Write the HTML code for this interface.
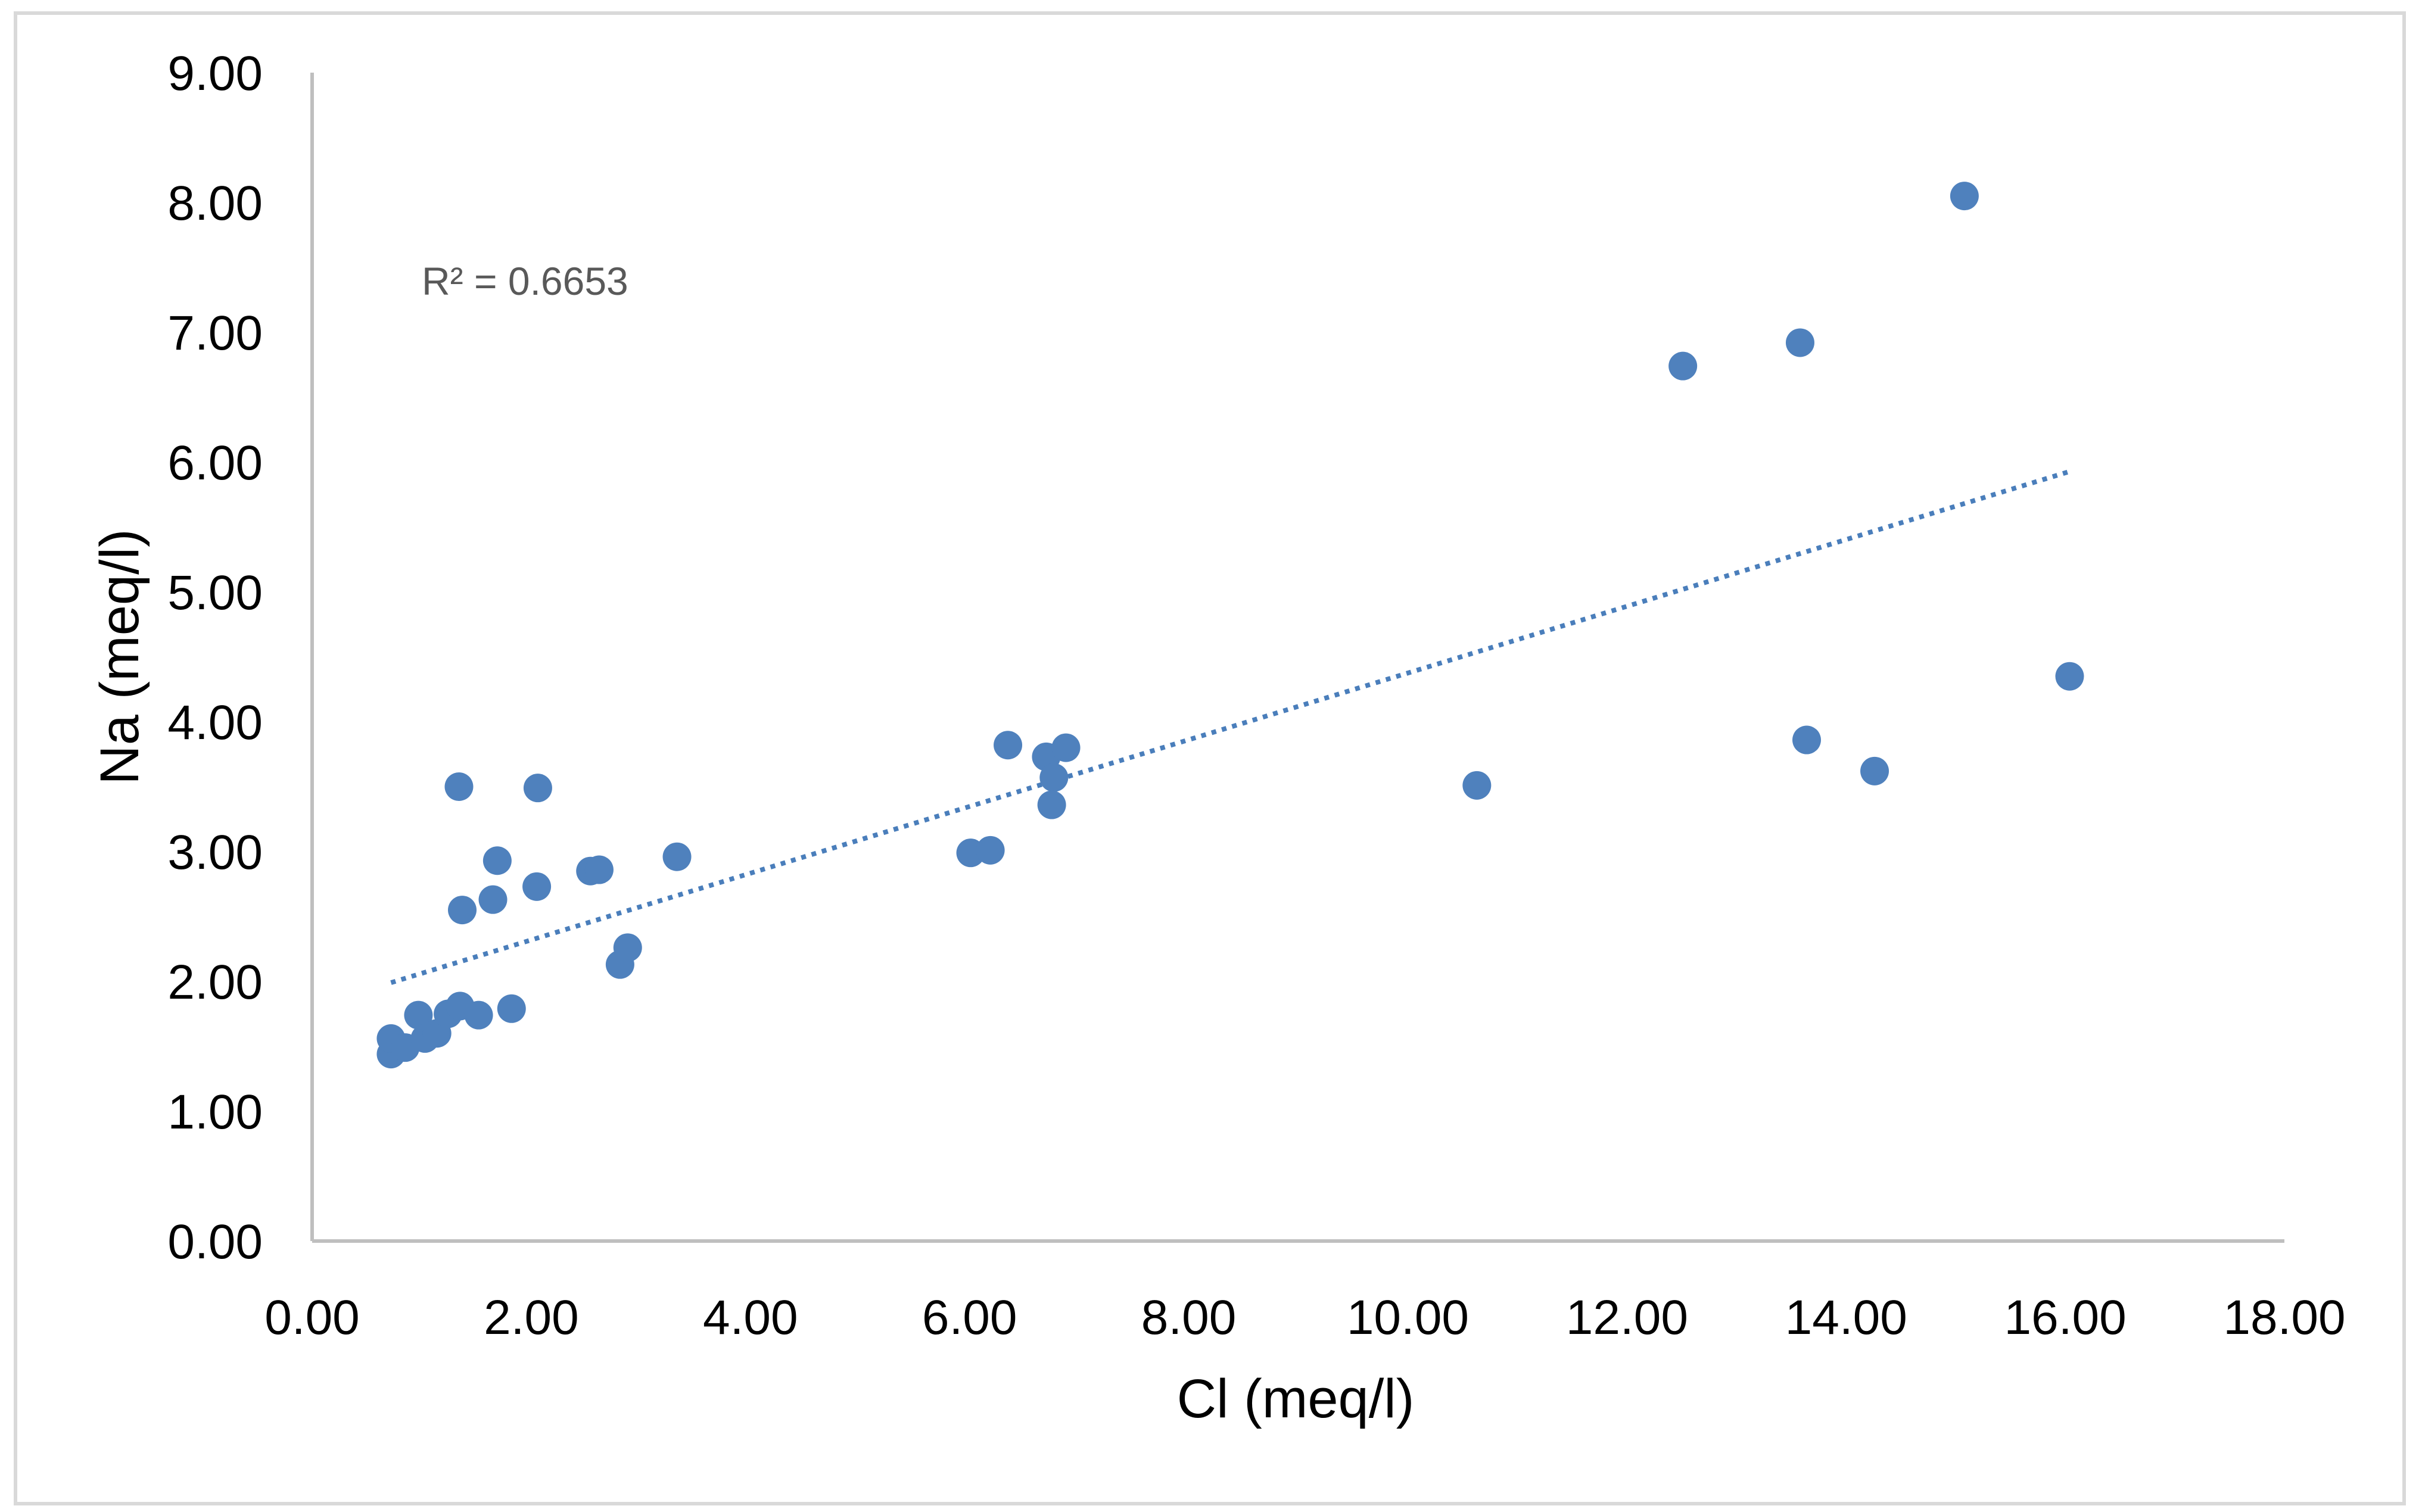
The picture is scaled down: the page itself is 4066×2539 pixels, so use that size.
<!DOCTYPE html>
<html><head><meta charset="utf-8"><style>
html,body{margin:0;padding:0;background:#fff;}
svg{display:block;font-family:"Liberation Sans",sans-serif;}
</style></head><body>
<svg id="chart" width="4066" height="2539" viewBox="0 0 4066 2539" xmlns="http://www.w3.org/2000/svg">
<rect x="26" y="22" width="4010" height="2503" fill="#fff" stroke="#d9d9d9" stroke-width="6"/>
<g id="axes"></g>
<g id="trend"></g>
<g id="points"></g>
<text x="708" y="495" font-size="66" fill="#595959">R² = 0.6653</text>
<text x="2175" y="2380" font-size="92" text-anchor="middle" fill="#000">Cl (meq/l)</text>
<text transform="translate(232,1103) rotate(-90)" font-size="92" text-anchor="middle" fill="#000">Na (meq/l)</text>
</svg>
<script>
const clValues=[0.72,0.72,0.85,0.97,1.03,1.14,1.24,1.35,1.52,1.82,1.34,1.37,1.65,1.69,2.05,2.06,2.54,2.62,2.81,2.88,3.33,6.01,6.19,6.35,6.70,6.77,6.75,6.88,10.63,12.51,13.58,13.64,14.26,15.08,16.04];
const naValues=[1.44,1.56,1.49,1.74,1.56,1.60,1.75,1.81,1.74,1.79,3.50,2.55,2.63,2.93,2.73,3.49,2.85,2.86,2.13,2.26,2.96,2.99,3.01,3.82,3.73,3.57,3.36,3.80,3.51,6.74,6.92,3.86,3.62,8.05,4.35];
const xTicks=[0,2,4,6,8,10,12,14,16,18];
const yTicks=[0,1,2,3,4,5,6,7,8,9];
const NS="http://www.w3.org/2000/svg";
const X0=524,X1=3835,Y0=2084,Y1=122;
function sx(v){return X0+(v-0)/(18-0)*(X1-X0);}
function sy(v){return Y0-(v-0)/(9-0)*(Y0-Y1);}
function mk(t,a,p){const e=document.createElementNS(NS,t);for(const k in a)e.setAttribute(k,a[k]);p.appendChild(e);return e;}
const axes=document.getElementById('axes');
let ya=mk('line',{x1:X0,y1:Y1,x2:X0,y2:Y0,stroke:'#bfbfbf','stroke-width':6},axes);


let xa=mk('line',{x1:X0,y1:Y0,x2:X1,y2:Y0,stroke:'#bfbfbf','stroke-width':6},axes);


yTicks.forEach(v=>{
  const t=mk('text',{x:441,y:sy(v)+29,'font-size':82,'text-anchor':'end',fill:'#000'},axes);
  t.textContent=v.toFixed(2);
  
  
});
xTicks.forEach(v=>{
  const t=mk('text',{x:sx(v),y:2240,'font-size':82,'text-anchor':'middle',fill:'#000'},axes);
  t.textContent=v.toFixed(2);
  
  
});
// linear regression
const n=clValues.length;
let mx=clValues.reduce((a,b)=>a+b,0)/n,my=naValues.reduce((a,b)=>a+b,0)/n,sxy=0,sxx=0;
for(let i=0;i<n;i++){sxy+=(clValues[i]-mx)*(naValues[i]-my);sxx+=(clValues[i]-mx)**2;}
const slope=sxy/sxx,icpt=my-slope*mx;
const xmin=Math.min(...clValues),xmax=Math.max(...clValues);
const tl=mk('line',{x1:sx(xmin),y1:sy(icpt+slope*xmin),x2:sx(xmax),y2:sy(icpt+slope*xmax),stroke:'#4a7ebb','stroke-width':8,'stroke-dasharray':'8 10'},document.getElementById('trend'));


const pg=document.getElementById('points');
for(let i=0;i<n;i++){
  const c=mk('circle',{cx:sx(clValues[i]),cy:sy(naValues[i]),r:24,fill:'#4f81bd'},pg);
  
  
}
</script>
</body></html>
